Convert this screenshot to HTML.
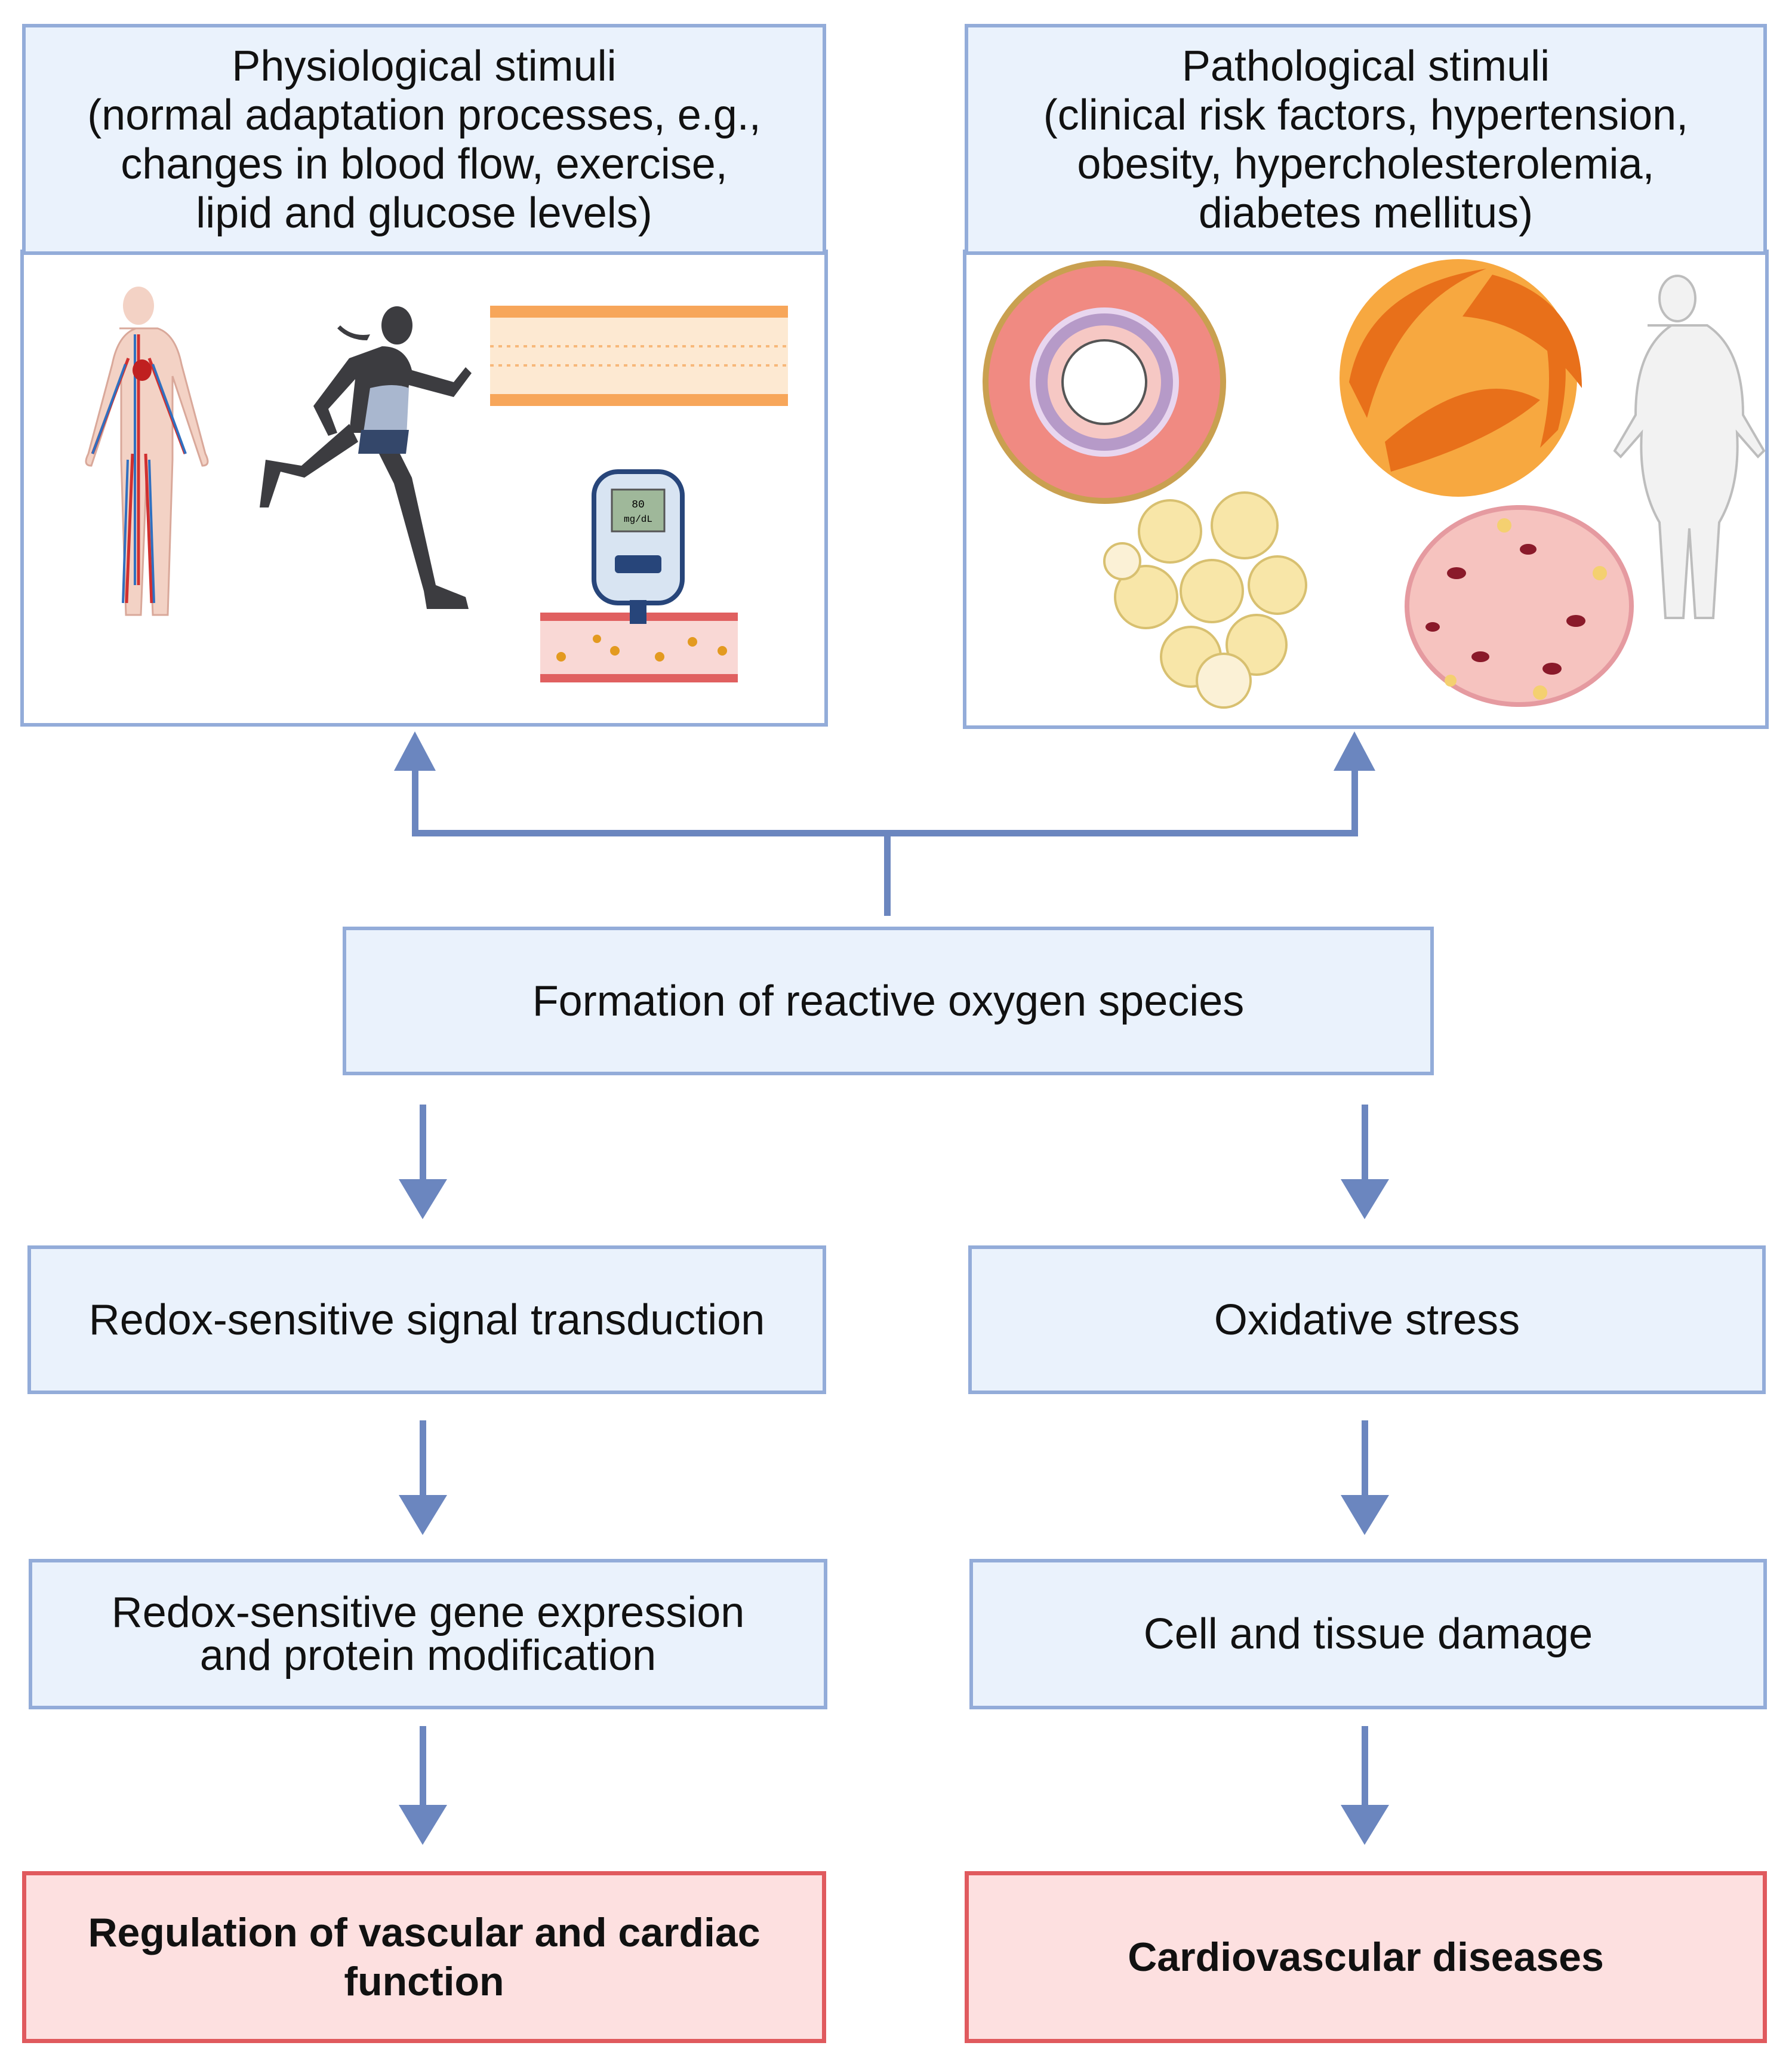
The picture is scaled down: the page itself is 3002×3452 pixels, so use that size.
<!DOCTYPE html>
<html><head><meta charset="utf-8"><style>
html,body{margin:0;padding:0;background:#fff}
body{width:3002px;height:3452px;position:relative;overflow:hidden;font-family:"Liberation Sans",sans-serif}
.b{position:absolute;box-sizing:border-box;background:#eaf2fc;border:6px solid #93acd9;display:flex;align-items:center;justify-content:center;text-align:center;color:#111;font-size:72px;line-height:76px}
.r{background:#fde0e0;border:7px solid #e05a5e;font-weight:bold;font-size:68px;line-height:82px}
.h{line-height:82px}
svg{position:absolute;left:0;top:0}
</style></head><body>
<svg width="3002" height="3452" viewBox="0 0 3002 3452">
<rect x="37" y="421" width="1347" height="793" fill="#fff" stroke="#93acd9" stroke-width="6"/>
<rect x="1616" y="421" width="1344" height="797" fill="#fff" stroke="#93acd9" stroke-width="6"/>
<g fill="#6b86bf" stroke="none">
<rect x="690" y="1285" width="11" height="116"/>
<rect x="2264" y="1285" width="11" height="116"/>
<rect x="690" y="1390" width="1585" height="11"/>
<rect x="1481" y="1395" width="11" height="139"/>
<polygon points="660,1291 730,1291 695,1225"/>
<polygon points="2234,1291 2304,1291 2269,1225"/>
<rect x="703" y="1850" width="11" height="130"/><polygon points="668,1975 749,1975 708,2042"/>
<rect x="2281" y="1850" width="11" height="130"/><polygon points="2246,1975 2327,1975 2286,2042"/>
<rect x="703" y="2379" width="11" height="130"/><polygon points="668,2504 749,2504 708,2571"/>
<rect x="2281" y="2379" width="11" height="130"/><polygon points="2246,2504 2327,2504 2286,2571"/>
<rect x="703" y="2891" width="11" height="132"/><polygon points="668,3023 749,3023 708,3090"/>
<rect x="2281" y="2891" width="11" height="132"/><polygon points="2246,3023 2327,3023 2286,3090"/>
</g>
<g>
<ellipse cx="232" cy="512" rx="26" ry="32" fill="#f3d2c5"/>
<path d="M200,550 h64 q30,10 40,60 l40,150 q10,20 -5,20 l-50,-150 l0,140 l-8,260 h-25 l-10,-250 l-10,250 h-25 l-8,-260 l0,-140 l-50,150 q-15,0 -5,-20 l40,-150 q10,-50 40,-60z" fill="#f3d2c5" stroke="#d9a89a" stroke-width="3"/>
<path d="M232,560 v420 M215,600 l-60,160 M250,600 l60,160 M222,760 l-10,250 M244,760 l10,250" stroke="#d03030" stroke-width="5" fill="none"/>
<path d="M226,560 v420 M210,610 l-55,150 M256,610 l55,150 M214,770 l-8,240 M250,770 l8,240" stroke="#3070c0" stroke-width="4" fill="none"/>
<ellipse cx="238" cy="620" rx="16" ry="18" fill="#c02020"/>
</g>
<g fill="#3c3c40">
<ellipse cx="665" cy="545" rx="26" ry="32"/>
<path d="M620,560 q-30,5 -50,-15 l-5,5 q20,20 50,20z"/>
<path d="M640,580 q40,0 50,40 l70,20 l20,-25 l10,10 l-30,40 l-75,-20 l-10,80 l-90,0 l10,-90 l-45,50 l15,40 l-15,5 l-25,-50 l60,-80z"/>
<path d="M600,740 l-90,60 l-40,-10 l-20,60 h-15 l10,-80 l60,10 l80,-70z"/>
<path d="M660,740 l30,60 l40,180 l50,20 l5,20 h-70 l-5,-30 l-50,-180 l-30,-60z"/>
<path d="M620,650 q40,-10 65,0 l-5,100 h-75z" fill="#a9b7cf"/>
<path d="M605,720 h80 l-5,40 h-80z" fill="#34476a"/>
</g>
<g>
<rect x="821" y="512" width="499" height="20" fill="#f7a65a"/>
<rect x="821" y="660" width="499" height="20" fill="#f7a65a"/>
<rect x="821" y="532" width="499" height="128" fill="#fde9d2"/>
<path d="M821,580 h499 M821,612 h499" stroke="#f7b87a" stroke-width="4" stroke-dasharray="6 8"/>
</g>
<rect x="905" y="1026" width="331" height="117" fill="#f9d8d5"/>
<rect x="905" y="1026" width="331" height="14" fill="#e06060"/>
<rect x="905" y="1129" width="331" height="14" fill="#e06060"/>
<g fill="#e39a20"><circle cx="940" cy="1100" r="8"/><circle cx="1030" cy="1090" r="8"/><circle cx="1105" cy="1100" r="8"/><circle cx="1160" cy="1075" r="8"/><circle cx="1210" cy="1090" r="8"/><circle cx="1000" cy="1070" r="7"/></g>
<rect x="995" y="790" width="148" height="220" rx="40" fill="#d8e4f2" stroke="#27457a" stroke-width="8"/>
<rect x="1025" y="820" width="88" height="70" fill="#9fb89a" stroke="#555" stroke-width="3"/>
<text x="1069" y="850" font-size="18" text-anchor="middle" font-family="Liberation Mono,monospace">80</text>
<text x="1069" y="874" font-size="16" text-anchor="middle" font-family="Liberation Mono,monospace">mg/dL</text>
<rect x="1030" y="930" width="78" height="30" rx="6" fill="#27457a"/>
<rect x="1055" y="1005" width="28" height="40" fill="#27457a"/>
<circle cx="1850" cy="640" r="199" fill="#f08a82" stroke="#c9a050" stroke-width="10"/>
<circle cx="1850" cy="640" r="120" fill="#b69ac8" stroke="#e8d6ef" stroke-width="10"/>
<circle cx="1850" cy="640" r="95" fill="#f6c8c4"/>
<circle cx="1850" cy="640" r="70" fill="#fff" stroke="#555" stroke-width="4"/>
<circle cx="2443" cy="633" r="199" fill="#f7a840"/>
<path d="M2260,640 q30,-160 230,-190 q-150,60 -200,250z" fill="#e8701a"/>
<path d="M2500,460 q150,40 150,190 q-80,-110 -200,-120z" fill="#e8701a"/>
<path d="M2320,740 q150,-130 260,-70 q-80,70 -250,120z" fill="#e8701a"/>
<path d="M2600,520 q40,80 10,200 l-30,30 q30,-120 0,-220z" fill="#e8701a"/>
<g fill="#f2f2f2" stroke="#bdbdbd" stroke-width="4">
<ellipse cx="2810" cy="500" rx="30" ry="38"/>
<path d="M2760,545 h100 q60,40 60,150 l35,60 l-10,10 l-35,-40 q5,90 -30,150 l-10,160 h-30 l-10,-150 l-10,150 h-30 l-10,-160 q-35,-60 -30,-150 l-35,40 l-10,-10 l35,-60 q0,-110 60,-150z"/>
</g>
<g fill="#f8e6a8" stroke="#d8c070" stroke-width="4">
<circle cx="1960" cy="890" r="52"/><circle cx="2085" cy="880" r="55"/><circle cx="1920" cy="1000" r="52"/>
<circle cx="2030" cy="990" r="52"/><circle cx="2140" cy="980" r="48"/><circle cx="1995" cy="1100" r="50"/>
<circle cx="2105" cy="1080" r="50"/><circle cx="1880" cy="940" r="30" fill="#fbf1d6"/><circle cx="2050" cy="1140" r="45" fill="#fbf1d6"/>
</g>
<ellipse cx="2545" cy="1015" rx="188" ry="165" fill="#f6c3bf" stroke="#e59aa0" stroke-width="8"/>
<g fill="#8a1a2a"><ellipse cx="2440" cy="960" rx="16" ry="10"/><ellipse cx="2560" cy="920" rx="14" ry="9"/><ellipse cx="2640" cy="1040" rx="16" ry="10"/><ellipse cx="2480" cy="1100" rx="15" ry="9"/><ellipse cx="2600" cy="1120" rx="16" ry="10"/><ellipse cx="2400" cy="1050" rx="12" ry="8"/></g>
<g fill="#f4d070"><circle cx="2520" cy="880" r="12"/><circle cx="2680" cy="960" r="12"/><circle cx="2430" cy="1140" r="10"/><circle cx="2580" cy="1160" r="12"/></g>
</svg>
<div class="b h" style="left:37px;top:40px;width:1347px;height:387px">Physiological stimuli<br>(normal adaptation processes, e.g.,<br>changes in blood flow, exercise,<br>lipid and glucose levels)</div>
<div class="b h" style="left:1616px;top:40px;width:1344px;height:387px">Pathological stimuli<br>(clinical risk factors, hypertension,<br>obesity, hypercholesterolemia,<br>diabetes mellitus)</div>
<div class="b" style="left:574px;top:1552px;width:1828px;height:249px">Formation of reactive oxygen species</div>
<div class="b" style="left:46px;top:2086px;width:1338px;height:249px">Redox-sensitive signal transduction</div>
<div class="b" style="left:1622px;top:2086px;width:1336px;height:249px">Oxidative stress</div>
<div class="b" style="left:48px;top:2611px;width:1338px;height:252px;line-height:72px">Redox-sensitive gene expression<br>and protein modification</div>
<div class="b" style="left:1624px;top:2611px;width:1336px;height:252px">Cell and tissue damage</div>
<div class="b r" style="left:37px;top:3134px;width:1347px;height:288px">Regulation of vascular and cardiac<br>function</div>
<div class="b r" style="left:1616px;top:3134px;width:1344px;height:288px">Cardiovascular diseases</div>
</body></html>
